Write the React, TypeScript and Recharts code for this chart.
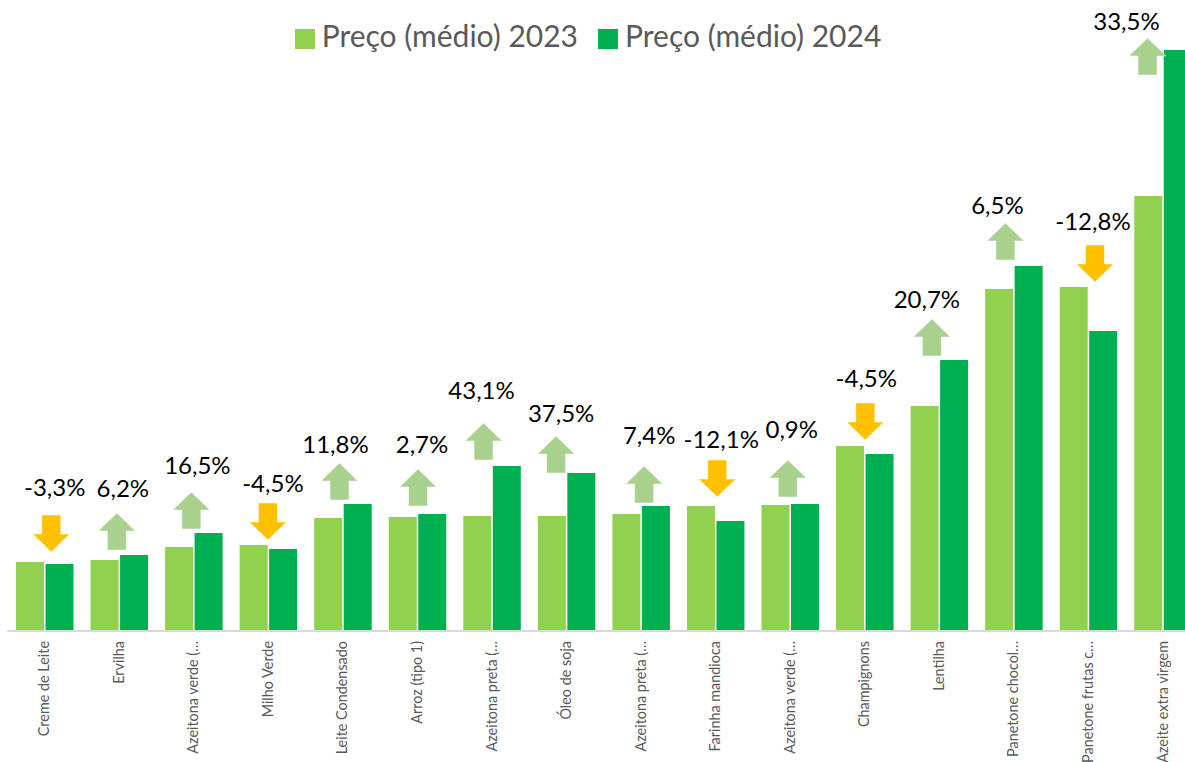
import { ComposedChart, Bar, Line, XAxis, YAxis, Legend } from "recharts"

const products = [
  "Creme de Leite",
  "Ervilha",
  "Azeitona verde (…",
  "Milho Verde",
  "Leite Condensado",
  "Arroz (tipo 1)",
  "Azeitona preta (…",
  "Óleo de soja",
  "Azeitona preta (…",
  "Farinha mandioca",
  "Azeitona verde (…",
  "Champignons",
  "Lentilha",
  "Panetone chocol…",
  "Panetone frutas c…",
  "Azeite extra virgem",
]
const price2023 = [6.9, 7.1, 8.4, 8.6, 11.3, 11.4, 11.5, 11.5, 11.7, 12.5, 12.6, 18.5, 22.5, 34.2, 34.4, 43.5]
const price2024 = [6.7, 7.6, 9.8, 8.2, 12.7, 11.7, 16.5, 15.8, 12.5, 11.0, 12.7, 17.7, 27.1, 36.5, 30.0, 58.1]
const changes = [-3.3, 6.2, 16.5, -4.5, 11.8, 2.7, 43.1, 37.5, 7.4, -12.1, 0.9, -4.5, 20.7, 6.5, -12.8, 33.5]

// hand placed callouts in the original, so each one has its own nudge
const arrowDx = [7, -2, -2, 0, -3, 1, -8, -10, 3.5, 2, -2, 1, -7, -8, 7, -15]
const arrowGap = [47, 42, 41, 42, 41, 45, 43, 37, 40, 46, 44, 43, 41, 43, 42, 12]
const labelDx = [3.5, 6, 6, 5, -4, 4, -2, 5, 5, 4, 4, 1, -5, -8, -2, -21]
const labelGap = [27, 24, 26, 19, 18, 24, 32, 22, 30, 20, 30, 24, 19, 17, 23, 16]

const data = products.map((name, i) => ({
  name,
  p2023: price2023[i],
  p2024: price2024[i],
  top: Math.max(price2023[i], price2024[i]),
  change: changes[i],
}))

const FONT = "Lato, 'Open Sans', sans-serif"

function Callout(props: any) {
  const { cx, cy, index, payload } = props
  const up = payload.change >= 0
  const ax = cx + arrowDx[index]
  const top = cy - arrowGap[index]
  const points = up
    ? [[0, 0], [18.5, 18], [9.5, 18], [9.5, 37], [-9.5, 37], [-9.5, 18], [-18.5, 18]]
    : [[-9.5, 0], [9.5, 0], [9.5, 19], [18.5, 19], [0, 37], [-18.5, 19], [-9.5, 19]]
  return (
    <g key={index}>
      <polygon
        points={points.map(([x, y]) => `${ax + x},${top + y}`).join(" ")}
        fill={up ? "#A9D18E" : "#FFC000"}
        stroke="#ffffff"
        strokeOpacity={0.5}
        strokeWidth={1}
      />
      <text
        x={ax + labelDx[index]}
        y={top - labelGap[index] + 8}
        textAnchor="middle"
        fontFamily={FONT}
        fontSize={24}
        fill="#000000"
      >
        {payload.change.toFixed(1).replace(".", ",")}%
      </text>
    </g>
  )
}

function ProductTick(props: any) {
  const { x, y, payload } = props
  return (
    <text
      transform={`translate(${x + 5},${y + 2}) rotate(-90)`}
      textAnchor="end"
      fontFamily={FONT}
      fontSize={14.4}
      fill="#595959"
    >
      {payload.value}
    </text>
  )
}

export default function App() {
  return (
    <div style={{ position: "absolute", left: 0, top: 0, width: 1185, height: 762, overflow: "hidden", background: "#fff" }}>
      <ComposedChart
        width={1210}
        height={800}
        data={data}
        barSize={28}
        barGap={1.5}
        margin={{ top: 31, right: 10.2, bottom: 0, left: 7 }}
      >
        <XAxis
          dataKey="name"
          interval={0}
          height={169}
          tickLine={false}
          axisLine={{ stroke: "#D9D9D9", strokeWidth: 2 }}
          tick={<ProductTick />}
        />
        <YAxis hide domain={[0, 60]} />
        <Legend
          layout="horizontal"
          verticalAlign="middle"
          align="center"
          iconType="square"
          iconSize={20}
          wrapperStyle={{ top: 17, left: 0, width: 1196, fontFamily: FONT, fontSize: 30 }}
          formatter={(value) => <span style={{ color: "#595959", paddingLeft: 3, paddingRight: 10 }}>{value}</span>}
        />
        <Bar dataKey="p2023" name="Preço (médio) 2023" fill="#92D050" isAnimationActive={false} />
        <Bar dataKey="p2024" name="Preço (médio) 2024" fill="#00B050" isAnimationActive={false} />
        <Line
          dataKey="top"
          stroke="none"
          legendType="none"
          dot={(p: any) => <Callout {...p} />}
          activeDot={false}
          isAnimationActive={false}
        />
      </ComposedChart>
    </div>
  )
}
